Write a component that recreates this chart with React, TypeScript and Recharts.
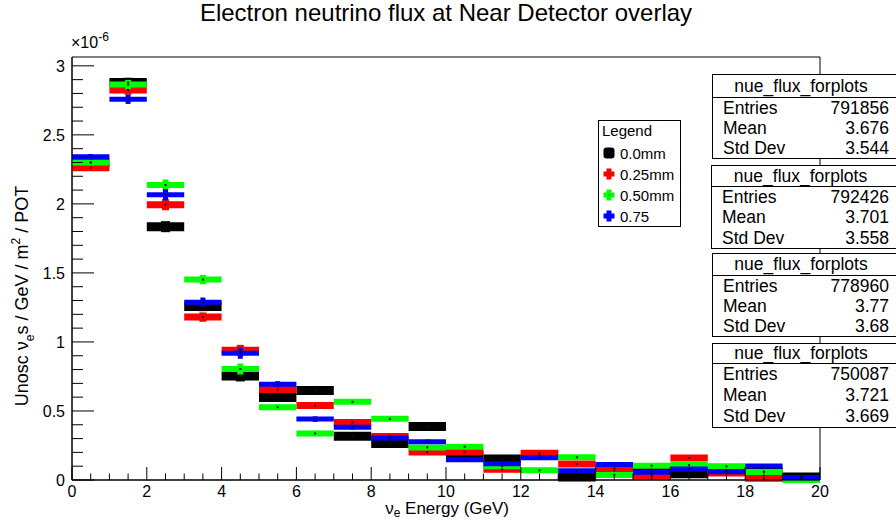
import React from 'react';
import { ComposedChart, Scatter, XAxis, YAxis, ErrorBar, ReferenceArea } from 'recharts';

// ---- data (units of 1e-6 nu_e / GeV / m^2 / POT) ----
const binCenters = [0.5, 1.5, 2.5, 3.5, 4.5, 5.5, 6.5, 7.5, 8.5, 9.5, 10.5, 11.5, 12.5, 13.5, 14.5, 15.5, 16.5, 17.5, 18.5, 19.5];
const binHalfWidth = 0.5;
const flux00mm = [2.3, 2.88, 1.835, 1.257, 0.754, 0.598, 0.648, 0.316, 0.265, 0.388, 0.176, 0.152, 0.18, 0.022, 0.085, 0.075, 0.046, 0.072, 0.061, 0.022];
const flux025mm = [2.262, 2.825, 1.994, 1.18, 0.939, 0.655, 0.54, 0.417, 0.315, 0.202, 0.204, 0.077, 0.193, 0.116, 0.07, 0.027, 0.159, 0.05, 0.012, 0.008];
const flux050mm = [2.3, 2.864, 2.137, 1.452, 0.804, 0.527, 0.337, 0.566, 0.443, 0.236, 0.241, 0.1, 0.07, 0.164, 0.036, 0.103, 0.108, 0.099, 0.058, 0.0];
const flux075mm = [2.341, 2.758, 2.066, 1.288, 0.918, 0.694, 0.441, 0.383, 0.305, 0.277, 0.147, 0.118, 0.161, 0.067, 0.113, 0.056, 0.079, 0.06, 0.101, 0.017];
const statErr = [0.02, 0.034, 0.04, 0.034, 0.04, 0.022, 0.02, 0.018, 0.017, 0.016, 0.015, 0.014, 0.013, 0.012, 0.012, 0.011, 0.011, 0.01, 0.01, 0.009];

const seriesNames = ['0.0mm', '0.25mm', '0.50mm', '0.75'];
const seriesValues = [flux00mm, flux025mm, flux050mm, flux075mm];
const seriesColors = ['#000000', '#ff0000', '#00ff00', '#0000ff'];
const seriesThickness = [9, 7, 6, 5];

const statTitle = 'nue_flux_forplots';
const statEntries = ['791856', '792426', '778960', '750087'];
const statMean = ['3.676', '3.701', '3.77', '3.721'];
const statStdDev = ['3.544', '3.558', '3.68', '3.669'];

const xTicks = Array.from({ length: 41 }, (_, i) => i / 2);
const yTicks = Array.from({ length: 31 }, (_, i) => i / 10);
const yMax = 3.064;

const FONT = '"Liberation Sans", Arial, Helvetica, sans-serif';

const XTick = (props: any) => {
  const { x, y, payload } = props;
  const v = payload.value;
  const major = Math.abs(v / 2 - Math.round(v / 2)) < 1e-6;
  return (
    <g>
      <line x1={x} x2={x} y1={y} y2={y - (major ? 13 : 6.5)} stroke="#000" strokeWidth={1} />
      {major && (
        <text x={x} y={y + 17} textAnchor="middle" fontSize={16} fontFamily={FONT} fill="#000">
          {String(v)}
        </text>
      )}
    </g>
  );
};

const YTick = (props: any) => {
  const { x, y, payload } = props;
  const v = payload.value;
  const major = Math.abs(v * 2 - Math.round(v * 2)) < 1e-6;
  return (
    <g>
      <line x1={x} x2={x + (major ? 22 : 11)} y1={y} y2={y} stroke="#000" strokeWidth={1} />
      {major && (
        <text x={x - 7} y={y + 6} textAnchor="end" fontSize={16} fontFamily={FONT} fill="#000">
          {String(Math.round(v * 10) / 10)}
        </text>
      )}
    </g>
  );
};

const DotShape = (p: any) => {
  if (p.cx == null || p.cy == null) return <g />;
  return <rect x={p.cx - 1} y={p.cy - 1} width={2} height={2} fill="#111" />;
};

const Marker = ({ idx }: { idx: number }) => {
  const c = seriesColors[idx];
  if (idx === 0) {
    return (
      <svg width={14} height={14} style={{ display: 'block' }}>
        <rect x={1.5} y={1.5} width={11} height={11} rx={3} fill={c} />
      </svg>
    );
  }
  return (
    <svg width={14} height={14} style={{ display: 'block' }}>
      <rect x={4.5} y={1.5} width={5} height={11} fill={c} />
      <rect x={1.5} y={4.5} width={11} height={5} fill={c} />
      <rect x={6.5} y={6.5} width={1} height={1} fill="#000" />
    </svg>
  );
};

const statBoxes = [
  { left: 712, top: 74, height: 85, titleH: 23, titleFont: 17.5 },
  { left: 711, top: 165, height: 84, titleH: 21, titleFont: 17.5 },
  { left: 712, top: 253, height: 84, titleH: 22, titleFont: 17.5 },
  { left: 712, top: 343, height: 85, titleH: 20, titleFont: 17.5 },
];

export default function App() {
  return (
    <div style={{ position: 'absolute', left: 0, top: 0, width: 896, height: 521, background: '#fff', fontFamily: FONT, overflow: 'hidden' }}>
      <ComposedChart width={896} height={521} margin={{ top: 57, right: 76, bottom: 11, left: 12 }}>
        <XAxis
          type="number"
          dataKey="x"
          domain={[0, 20]}
          ticks={xTicks}
          interval={0}
          allowDataOverflow
          tickSize={0}
          tickMargin={0}
          tickLine={false}
          tick={<XTick />}
          height={30}
          axisLine={{ stroke: '#000', strokeWidth: 1 }}
        />
        <YAxis
          type="number"
          dataKey="y"
          domain={[0, yMax]}
          ticks={yTicks}
          interval={0}
          allowDataOverflow
          tickSize={0}
          tickMargin={0}
          tickLine={false}
          tick={<YTick />}
          width={60}
          axisLine={{ stroke: '#000', strokeWidth: 1 }}
        />
        <ReferenceArea x1={0} x2={20} y1={0} y2={yMax} fill="none" stroke="#000" strokeWidth={1} ifOverflow="visible" />
        {seriesValues.map((vals, si) => (
          <Scatter
            key={seriesNames[si]}
            name={seriesNames[si]}
            data={binCenters.map((x, i) => ({ x, y: vals[i], xe: binHalfWidth, ye: statErr[i] }))}
            dataKey="y"
            fill={seriesColors[si]}
            shape={DotShape}
            isAnimationActive={false}
          >
            <ErrorBar dataKey="xe" direction="x" width={0} stroke={seriesColors[si]} strokeWidth={seriesThickness[si]} />
            <ErrorBar dataKey="ye" direction="y" width={0} stroke={seriesColors[si]} strokeWidth={seriesThickness[si]} />
          </Scatter>
        ))}
      </ComposedChart>

      {/* title */}
      <div style={{ position: 'absolute', left: 0, width: 892, top: -1, textAlign: 'center', fontSize: 24, color: '#000', whiteSpace: 'nowrap' }}>
        Electron neutrino flux at Near Detector overlay
      </div>

      {/* exponent */}
      <div style={{ position: 'absolute', left: 71, top: 34, fontSize: 16, whiteSpace: 'nowrap' }}>
        ×10<sup style={{ fontSize: 12, verticalAlign: 'top', position: 'relative', top: -4 }}>-6</sup>
      </div>

      {/* x axis title */}
      <div style={{ position: 'absolute', right: 896 - 509, top: 500, fontSize: 17, whiteSpace: 'nowrap', lineHeight: '18px' }}>
        ν<sub style={{ fontSize: 12, verticalAlign: 'bottom', position: 'relative', top: 4 }}>e</sub> Energy (GeV)
      </div>

      {/* y axis title */}
      <div
        style={{
          position: 'absolute',
          left: 22,
          top: 296,
          transform: 'translate(-50%, -50%) rotate(-90deg)',
          fontSize: 18,
          whiteSpace: 'nowrap',
        }}
      >
        Unosc ν<sub style={{ fontSize: 12, verticalAlign: 'bottom', position: 'relative', top: 4 }}>e</sub>s / GeV / m
        <sup style={{ fontSize: 12, verticalAlign: 'top', position: 'relative', top: -3 }}>2</sup> / POT
      </div>

      {/* legend */}
      <div style={{ position: 'absolute', left: 598, top: 120, width: 81, height: 105, border: '1px solid #000', background: '#fff', fontSize: 15 }}>
        <div style={{ position: 'absolute', left: 3, top: 1 }}>Legend</div>
        {seriesNames.map((n, i) => (
          <div key={n} style={{ position: 'absolute', left: 3, top: 23 + i * 21, height: 18, display: 'flex', alignItems: 'center' }}>
            <Marker idx={i} />
            <span style={{ marginLeft: 4 }}>{n}</span>
          </div>
        ))}
      </div>

      {/* stat boxes */}
      {statBoxes.map((b, i) => (
        <div
          key={i}
          style={{
            position: 'absolute',
            left: b.left,
            top: b.top,
            width: 896 - b.left,
            height: b.height - 2,
            border: '1px solid #000',
            background: '#fff',
            fontSize: 17.5,
          }}
        >
          <div style={{ height: b.titleH - 1, borderBottom: '1px solid #000', textAlign: 'center', lineHeight: `${b.titleH - 1}px`, fontSize: b.titleFont, paddingRight: 8 }}>
            {statTitle}
          </div>
          {[['Entries', statEntries[i]], ['Mean', statMean[i]], ['Std Dev', statStdDev[i]]].map(([k, v]) => (
            <div key={k} style={{ height: (b.height - b.titleH - 2) / 3, lineHeight: `${(b.height - b.titleH - 2) / 3}px`, display: 'flex', justifyContent: 'space-between', paddingLeft: 10, paddingRight: 8 }}>
              <span>{k}</span>
              <span>{v}</span>
            </div>
          ))}
        </div>
      ))}
    </div>
  );
}
